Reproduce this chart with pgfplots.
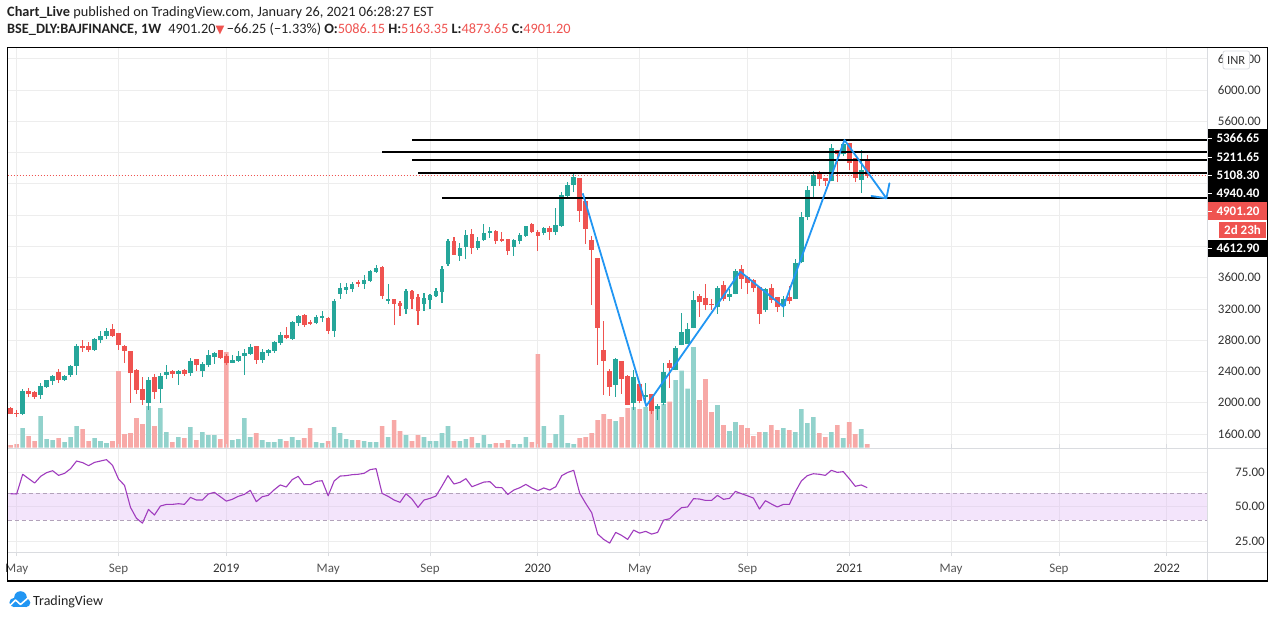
\documentclass[border=0pt]{standalone}
\usepackage{fontspec}
\setmainfont{Carlito}
\newfontfamily\djv{DejaVu Sans}
\usepackage{pgfplots}
\usepackage{pgfplotstable}
\pgfplotsset{compat=1.18}
\definecolor{upc}{HTML}{26A69A}
\definecolor{dnc}{HTML}{EF5350}
\definecolor{upv}{HTML}{92D2CC}
\definecolor{dnv}{HTML}{F7A9A7}
\definecolor{gridc}{HTML}{EDEDED}
\definecolor{sepc}{HTML}{DADCE0}
\definecolor{txt}{HTML}{222222}
\definecolor{axc}{HTML}{333333}
\definecolor{mc}{HTML}{555555}
\definecolor{rsic}{HTML}{A03CBE}
\definecolor{bandc}{HTML}{DDB4F5}
\definecolor{bandl}{HTML}{B2A2BA}
\definecolor{tvb}{HTML}{2196F3}

\pgfplotstableread{
k o h l c v
2 1856 2176 1843 2150 19.7
5 2103 2253 2052 2214 31.7
6 2201 2295 2193 2291 8.7
7 2282 2359 2231 2342 7.7
9 2291 2355 2282 2342 5.7
10 2355 2478 2333 2470 10.7
11 2470 2751 2359 2726 21.7
14 2675 2824 2666 2815 9.7
15 2802 2922 2760 2854 6.7
16 2854 2956 2819 2917 4.7
23 2001 2329 1911 2291 41.7
25 2180 2385 2001 2342 39.7
26 2355 2483 2299 2393 15.7
28 2368 2419 2231 2406 10.7
30 2385 2572 2346 2534 20.7
32 2410 2521 2333 2496 15.7
33 2487 2675 2461 2611 12.7
34 2585 2649 2500 2636 12.7
37 2513 2611 2508 2547 7.7
38 2538 2662 2525 2598 8.7
39 2598 2692 2359 2636 29.7
40 2628 2751 2615 2713 10.7
42 2551 2687 2513 2649 7.7
43 2640 2692 2598 2675 5.7
44 2666 2794 2640 2781 5.7
45 2768 2905 2743 2866 8.7
47 2819 3050 2807 3033 10.7
48 3020 3122 2982 3109 7.7
51 3020 3122 3007 3097 5.7
52 3084 3173 3037 3109 4.7
54 2922 3331 2845 3305 20.7
55 3391 3531 3331 3467 14.7
56 3442 3531 3391 3480 8.7
57 3455 3544 3416 3519 7.7
59 3519 3634 3459 3570 6.7
60 3557 3698 3544 3685 5.7
61 3672 3762 3663 3723 5.7
63 3301 3519 3267 3327 10.7
66 3203 3455 3139 3429 12.7
69 3267 3403 3178 3340 10.7
70 3318 3391 3203 3378 6.7
71 3365 3467 3352 3429 6.7
72 3420 3749 3280 3710 14.7
73 3774 4094 3753 4069 21.7
75 3881 4043 3817 3979 6.7
76 3996 4209 3843 4145 8.7
78 3983 4120 3958 4069 4.7
79 4081 4286 4069 4171 12.7
80 4171 4248 4107 4196 3.7
84 3996 4094 3881 4081 3.7
85 4069 4171 4030 4145 3.7
86 4137 4265 4124 4260 10.7
89 4171 4248 4145 4235 21.7
91 4188 4491 4145 4273 13.7
92 4260 4695 4248 4657 32.7
93 4644 4823 4631 4785 4.7
94 4780 4925 4695 4887 3.7
101 2231 2572 2078 2559 26.7
104 2001 2419 1911 2329 40.7
106 2078 2248 1958 2095 40.7
108 1924 1984 1783 1958 38.7
109 1992 2508 1967 2393 43.7
111 2419 2726 2415 2700 67.7
112 2738 3148 2735 2905 77.0
113 2751 3020 2748 2943 59.0
114 2956 3429 2952 3314 100.7
118 3224 3493 3135 3467 42.7
120 3356 3455 3301 3391 16.7
121 3391 3710 3387 3685 25.7
126 3186 3467 3160 3455 15.7
129 3237 3365 3097 3327 19.7
131 3327 3838 3323 3787 15.7
132 3800 4439 3787 4375 38.7
133 4375 4772 4337 4721 24.7
134 4772 4964 4631 4913 30.7
137 4836 5309 4832 5258 15.7
139 5181 5373 5155 5309 9.7
142 4849 5232 4682 4976 18.7
}\upT

\pgfplotstableread{
k o h l c v
0 1937 1950 1853 1860 2.7
1 1873 1907 1822 1865 3.7
3 2150 2189 2069 2116 11.7
4 2137 2150 2052 2078 6.7
8 2393 2432 2257 2295 9.7
12 2726 2802 2653 2704 18.7
13 2726 2777 2653 2675 6.7
17 2943 3007 2841 2854 6.7
18 2892 2895 2675 2738 76.7
19 2726 2738 2513 2662 13.7
20 2662 2665 2001 2380 14.7
21 2419 2432 2116 2167 29.7
22 2176 2329 1975 2039 23.7
24 2329 2368 2052 2142 21.7
27 2406 2419 2321 2368 5.7
29 2419 2432 2346 2368 9.7
31 2559 2562 2406 2483 7.7
35 2675 2678 2564 2576 8.7
36 2598 2619 2487 2513 95.7
41 2726 2730 2500 2551 14.7
46 2866 2969 2815 2828 6.7
49 3122 3135 2973 2999 9.7
50 3033 3058 2994 3007 19.7
53 3084 3097 2883 2922 6.7
58 3544 3570 3485 3523 7.7
62 3740 3745 3331 3369 21.7
64 3327 3330 2994 3267 27.7
65 3276 3301 3114 3242 16.7
67 3429 3442 3203 3331 6.7
68 3352 3391 2994 3178 12.7
74 4069 4120 3890 3894 6.7
77 4158 4222 3902 3979 10.7
81 4196 4209 4034 4069 4.7
82 4094 4184 4060 4069 4.7
83 4094 4098 3890 3945 7.7
87 4286 4299 4171 4188 5.7
88 4184 4209 3945 4133 93.7
90 4235 4260 4081 4184 4.7
95 4874 4878 4316 4456 9.7
96 4580 4619 4034 4226 10.7
97 4081 4133 3254 3958 14.7
98 3851 3855 2487 2960 27.7
99 2675 3050 2103 2538 33.7
100 2406 2432 2090 2206 28.7
102 2534 2538 2116 2308 30.7
103 2342 2355 1970 1975 39.7
105 2240 2245 1992 2026 38.7
107 2112 2115 1856 1899 38.7
110 2508 2546 2188 2444 46.0
115 3365 3391 3097 3288 47.7
116 3339 3519 3186 3250 68.7
117 3263 3327 3186 3254 35.7
119 3506 3557 3301 3327 22.7
122 3710 3761 3455 3582 22.7
123 3608 3621 3391 3531 19.7
124 3570 3582 3416 3467 11.7
125 3480 3484 3007 3135 15.7
127 3467 3519 3276 3314 22.7
128 3352 3356 3160 3224 17.7
130 3352 3493 3263 3301 17.7
135 4951 4964 4772 4861 14.7
136 4874 4878 4772 4840 10.7
138 5232 5236 4823 5181 22.7
140 5322 5326 4976 5070 25.7
141 5130 5134 4823 4874 13.7
143 5086.15 5163.35 4873.65 4901.20 3.7
}\dnT

\pgfplotstableread{
k r
0 59.5
1 59.3
2 73.7
3 70.5
4 67.3
5 72.2
6 74.9
7 76.3
8 72.9
9 74.4
10 77.8
11 83.4
12 82.2
13 80.0
14 82.4
15 83.4
16 84.4
17 80.2
18 70.2
19 65.6
20 49.5
21 41.5
22 38.0
23 48.0
24 43.9
25 50.5
26 51.7
27 51.7
28 52.2
29 51.7
30 56.8
31 54.9
32 54.9
33 59.3
34 60.5
35 57.3
36 54.1
37 55.4
38 57.6
39 59.0
40 62.0
41 53.7
42 57.3
43 58.3
44 62.4
45 65.9
46 64.4
47 69.8
48 72.2
49 66.1
50 66.1
51 68.5
52 69.0
53 58.0
54 68.8
55 72.4
56 72.7
57 73.4
58 73.7
59 74.4
60 77.1
61 77.8
62 59.8
63 57.6
64 54.9
65 53.2
66 59.5
67 55.6
68 49.5
69 54.9
70 56.1
71 57.8
72 65.1
73 72.7
74 66.6
75 67.8
76 70.5
77 64.6
78 66.3
79 68.0
80 68.3
81 64.1
82 63.9
83 59.0
84 62.2
85 63.9
86 66.3
87 63.7
88 61.7
89 63.7
90 62.2
91 64.6
92 72.7
93 75.1
94 76.6
95 59.8
96 52.4
97 45.6
98 30.0
99 26.1
100 23.4
101 31.2
102 29.0
103 26.1
104 32.9
105 30.7
106 32.0
107 30.0
108 31.2
109 40.2
110 41.2
111 45.6
112 49.3
113 49.8
114 55.9
115 55.6
116 54.6
117 54.6
118 58.3
119 55.4
120 56.1
121 61.2
122 59.5
123 58.0
124 56.3
125 48.3
126 54.4
127 52.0
128 49.8
129 51.7
130 51.7
131 61.0
132 68.8
133 72.7
134 74.1
135 73.7
136 72.9
137 76.6
138 75.1
139 75.6
140 70.5
141 64.9
142 65.9
143 63.9
}\rsiT

\pgfplotsset{
  panel/.style={scale only axis, width=1199.5pt, xmin=-0.534, xmax=199.72,
    anchor=north west, at={(0pt,0pt)},
    xtick={1,18,36,53,70,88,105,123,140,157,175,193}},
  pricegeo/.style={panel, height=400pt, ymin=1421, ymax=6537},
  candle/.style={draw=none, mark=none, forget plot, error bars/.cd, y dir=plus, y explicit, error mark=none},
}

\begin{document}
\begin{tikzpicture}[x=1pt,y=1pt]
\path[use as bounding box] (0,0) rectangle (1274,-618);
\fill[white] (0,0) rectangle (1274,-618);

% header
\node[anchor=base west, inner sep=0pt, text=txt, font=\fontsize{14.3}{17}\selectfont] at (7,-16.5)
  {\textbf{Chart\_Live} published on TradingView.com, January 26, 2021 06:28:27 EST};
\node[anchor=base west, inner sep=0pt, text=txt, font=\fontsize{14.3}{17}\selectfont] at (7,-33.5)
  {\textbf{BSE\_DLY:BAJFINANCE, 1W}\enspace 4901.20{\color{dnc}\djv\fontsize{11.5}{12}\selectfont ▼}\,−66.25 (−1.33\%) \textbf{O:}{\color{dnc}5086.15} \textbf{H:}{\color{dnc}5163.35} \textbf{L:}{\color{dnc}4873.65} \textbf{C:}{\color{dnc}4901.20}};

\begin{scope}[shift={(7.5pt,-48pt)}]
% price panel grid and labels
\begin{axis}[pricegeo, axis line style={draw=none}, tick style={draw=none},
  ytick={1600,2000,...,6400},
  yticklabels={1600.00,2000.00,2400.00,2800.00,3200.00,3600.00,,,,,5600.00,6000.00,6400.00},
  xticklabels={},
  grid=major, major grid style={draw=gridc, line width=0.8pt},
  yticklabel pos=right,
  yticklabel style={font=\fontsize{13}{15}\selectfont, text=axc, anchor=east, inner sep=0pt, xshift=54pt}]
\addplot[draw=none] coordinates {(0,1600)};
\end{axis}

% volume
\begin{axis}[panel, height=400pt, ymin=-0.3, ymax=399.7, hide axis]
\addplot[ybar, bar width=4.6pt, bar shift=0pt, fill=upv, draw=none] table[x=k, y=v] {\upT};
\addplot[ybar, bar width=4.6pt, bar shift=0pt, fill=dnv, draw=none] table[x=k, y=v] {\dnT};
\end{axis}

% candles and drawings
\begin{axis}[pricegeo, hide axis]
\addplot[candle, error bar style={line width=1.1pt, draw=upc}]
  table[x=k, y=l, y error plus expr=\thisrow{h}-\thisrow{l}] {\upT};
\addplot[candle, error bar style={line width=1.1pt, draw=dnc}]
  table[x=k, y=l, y error plus expr=\thisrow{h}-\thisrow{l}] {\dnT};
\addplot[candle, error bar style={line width=4.6pt, draw=upc}]
  table[x=k, y=o, y error plus expr=\thisrow{c}-\thisrow{o}] {\upT};
\addplot[candle, error bar style={line width=4.6pt, draw=dnc}]
  table[x=k, y=c, y error plus expr=\thisrow{o}-\thisrow{c}] {\dnT};
% current price line
\addplot[dnc, line width=0.9pt, dash pattern=on 1pt off 2pt] coordinates {(-0.534,4901.2) (199.72,4901.2)};
% horizontal levels
\addplot[black, line width=2pt] coordinates {(67,5366.65) (199.72,5366.65)};
\addplot[black, line width=2pt] coordinates {(62,5211.65) (199.72,5211.65)};
\addplot[black, line width=2pt] coordinates {(67,5108.30) (199.72,5108.30)};
\addplot[black, line width=2pt] coordinates {(68,4940.40) (199.72,4940.40)};
\addplot[black, line width=2pt] coordinates {(72,4612.90) (199.72,4612.90)};
% trend path
\addplot[tvb, line width=1.8pt, line join=round] coordinates {(95.5,4679) (106.1,1958) (121.8,3676) (129,3228) (139.2,5360) (146.2,4615)};
\addplot[tvb, line width=1.8pt, line join=round, line cap=round] coordinates {(143.7,4644) (146.2,4615) (146.7,4806)};
\end{axis}
\end{scope}

% RSI panel
\begin{scope}[shift={(7.5pt,-448pt)}]
\begin{axis}[panel, height=104pt, ymin=16.9, ymax=92.9,
  axis line style={draw=none}, ytick={25,50,75}, ytick style={draw=none},
  yticklabels={25.00,50.00,75.00},
  xtick style={draw=sepc, line width=0.8pt}, tick align=outside, major tick length=4pt,
  grid=major, major grid style={draw=gridc, line width=0.8pt},
  yticklabel pos=right,
  yticklabel style={font=\fontsize{13}{15}\selectfont, text=axc, anchor=east, inner sep=0pt, xshift=54pt},
  xticklabels={{\color{mc}May},{\color{mc}Sep},{2019},{\color{mc}May},{\color{mc}Sep},{2020},{\color{mc}May},{\color{mc}Sep},{2021},{\color{mc}May},{\color{mc}Sep},{2022}},
  xticklabel style={font=\fontsize{13}{15}\selectfont, text=axc, anchor=base, inner sep=0pt, yshift=-16.5pt}]
\fill[bandc, fill opacity=0.35] (axis cs:-0.534,40) rectangle (axis cs:199.72,60);
\addplot[bandl, line width=0.9pt, dash pattern=on 4pt off 3pt] coordinates {(-0.534,60) (199.72,60)};
\addplot[bandl, line width=0.9pt, dash pattern=on 4pt off 3pt] coordinates {(-0.534,40) (199.72,40)};
\addplot[rsic, line width=1.1pt, line join=round] table[x=k, y=r] {\rsiT};
\end{axis}
\end{scope}

% separators and frame
\draw[sepc, line width=1pt] (1207,-47.5) -- (1207,-581);
\draw[sepc, line width=1pt] (7.5,-448) -- (1267.5,-448);
\draw[sepc, line width=1pt] (7.5,-552.5) -- (1267.5,-552.5);
\draw[black, line width=1.5pt] (7.5,-47.5) rectangle (1267.5,-581);

% INR box
\draw[draw=sepc, fill=white, rounded corners=2pt, line width=0.8pt] (1223,-51) rectangle (1249.5,-69);
\node[text=axc, font=\fontsize{12.5}{14}\selectfont, inner sep=0pt] at (1236.2,-60) {INR};

% price labels
\fill[black] (1207.8,-129) rectangle (1267,-201.5);
\fill[dnc] (1207.8,-202) rectangle (1267,-220);
\fill[dnc] (1219,-222) rectangle (1266,-238);
\fill[black] (1207.8,-239.5) rectangle (1267,-257);
\foreach \yy in {138,157,175,193,211,248} {\draw[white, line width=0.9pt] (1207.8,-\yy) -- (1212,-\yy);}
\begin{scope}[every node/.style={text=white, font=\bfseries\fontsize{13}{15}\selectfont, inner sep=0pt}]
\node at (1238,-138) {5366.65};
\node at (1238,-157) {5211.65};
\node at (1238,-175) {5108.30};
\node at (1238,-193) {4940.40};
\node at (1238,-211) {4901.20};
\node at (1242.5,-230) {2d 23h};
\node at (1238,-248) {4612.90};
\end{scope}

% TradingView logo
\fill[tvb] (14,-602.5) circle (4.6);
\fill[tvb] (20.5,-597.5) circle (6.3);
\fill[tvb] (26,-602.8) circle (4.3);
\fill[tvb] (14,-607) rectangle (26,-601);
\draw[white, line width=1.6pt, line join=round] (9.5,-606) -- (15.5,-600) -- (20.5,-604.5) -- (28.5,-597.5);
\node[anchor=base west, inner sep=0pt, text=txt, font=\fontsize{14}{16}\selectfont] at (33,-605) {TradingView};
\end{tikzpicture}
\end{document}
